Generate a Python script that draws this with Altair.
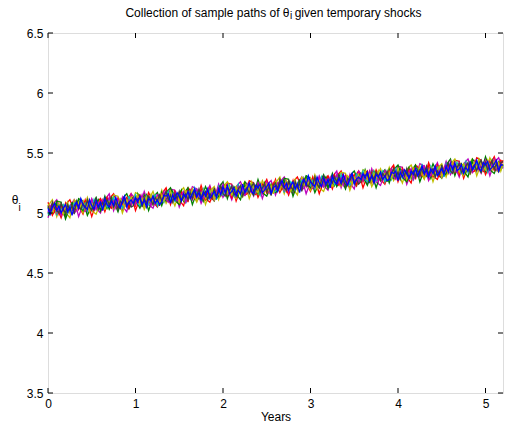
import altair as alt
import pandas as pd

# ---- data (sample paths, 0.025-year steps) ----
years = [0, 0.025, 0.05, 0.075, 0.1, 0.125, 0.15, 0.175, 0.2, 0.225, 0.25, 0.275, 0.3,
         0.325, 0.35, 0.375, 0.4, 0.425, 0.45, 0.475, 0.5, 0.525, 0.55, 0.575, 0.6, 0.625,
         0.65, 0.675, 0.7, 0.725, 0.75, 0.775, 0.8, 0.825, 0.85, 0.875, 0.9, 0.925, 0.95,
         0.975, 1.0, 1.025, 1.05, 1.075, 1.1, 1.125, 1.15, 1.175, 1.2, 1.225, 1.25, 1.275,
         1.3, 1.325, 1.35, 1.375, 1.4, 1.425, 1.45, 1.475, 1.5, 1.525, 1.55, 1.575, 1.6,
         1.625, 1.65, 1.675, 1.7, 1.725, 1.75, 1.775, 1.8, 1.825, 1.85, 1.875, 1.9, 1.925,
         1.95, 1.975, 2.0, 2.025, 2.05, 2.075, 2.1, 2.125, 2.15, 2.175, 2.2, 2.225, 2.25,
         2.275, 2.3, 2.325, 2.35, 2.375, 2.4, 2.425, 2.45, 2.475, 2.5, 2.525, 2.55, 2.575,
         2.6, 2.625, 2.65, 2.675, 2.7, 2.725, 2.75, 2.775, 2.8, 2.825, 2.85, 2.875, 2.9,
         2.925, 2.95, 2.975, 3.0, 3.025, 3.05, 3.075, 3.1, 3.125, 3.15, 3.175, 3.2, 3.225,
         3.25, 3.275, 3.3, 3.325, 3.35, 3.375, 3.4, 3.425, 3.45, 3.475, 3.5, 3.525, 3.55,
         3.575, 3.6, 3.625, 3.65, 3.675, 3.7, 3.725, 3.75, 3.775, 3.8, 3.825, 3.85, 3.875,
         3.9, 3.925, 3.95, 3.975, 4.0, 4.025, 4.05, 4.075, 4.1, 4.125, 4.15, 4.175, 4.2,
         4.225, 4.25, 4.275, 4.3, 4.325, 4.35, 4.375, 4.4, 4.425, 4.45, 4.475, 4.5, 4.525,
         4.55, 4.575, 4.6, 4.625, 4.65, 4.675, 4.7, 4.725, 4.75, 4.775, 4.8, 4.825, 4.85,
         4.875, 4.9, 4.925, 4.95, 4.975, 5.0, 5.025, 5.05, 5.075, 5.1, 5.125, 5.15, 5.175,
         5.2]
years_coarse = years[::2]   # 0.05-year steps

path_green = [5.05, 5.00, 5.07, 5.02, 5.08, 5.01, 5.03, 5.06, 4.99, 5.04, 5.01, 5.09, 5.02,
              5.06, 5.11, 5.04, 5.02, 5.09, 5.07, 5.10, 5.03, 5.05, 5.08, 5.11, 5.02, 5.07,
              5.09, 5.04, 5.10, 5.13, 5.07, 5.11, 5.05, 5.09, 5.12, 5.06, 5.10, 5.03, 5.11,
              5.13, 5.08, 5.16, 5.11, 5.09, 5.07, 5.15, 5.10, 5.07, 5.14, 5.09, 5.13, 5.06,
              5.17, 5.12, 5.10, 5.15, 5.11, 5.18, 5.12, 5.09, 5.15, 5.19, 5.10, 5.14, 5.16,
              5.13, 5.18, 5.14, 5.19, 5.12, 5.16, 5.10, 5.17, 5.15, 5.19, 5.13, 5.16, 5.12,
              5.14, 5.20, 5.19, 5.21, 5.13, 5.20, 5.16, 5.22, 5.19, 5.15, 5.21, 5.18, 5.23,
              5.17, 5.21, 5.25, 5.18, 5.22, 5.16, 5.23, 5.19, 5.25, 5.17, 5.20, 5.23, 5.18,
              5.24, 5.19, 5.26, 5.21, 5.27, 5.20, 5.22, 5.25, 5.18, 5.23, 5.20, 5.28, 5.21,
              5.25, 5.30, 5.23, 5.21, 5.28, 5.26, 5.29, 5.22, 5.24, 5.27, 5.30, 5.21, 5.26,
              5.28, 5.23, 5.29, 5.32, 5.26, 5.30, 5.24, 5.28, 5.31, 5.25, 5.29, 5.22, 5.30,
              5.33, 5.28, 5.36, 5.31, 5.29, 5.27, 5.35, 5.30, 5.27, 5.34, 5.29, 5.33, 5.26,
              5.36, 5.31, 5.29, 5.34, 5.30, 5.37, 5.31, 5.28, 5.34, 5.38, 5.29, 5.33, 5.35,
              5.32, 5.37, 5.33, 5.38, 5.31, 5.35, 5.29, 5.36, 5.34, 5.38, 5.32, 5.35, 5.31,
              5.33, 5.39, 5.38, 5.40, 5.32, 5.39, 5.35, 5.41, 5.38, 5.34, 5.40, 5.37, 5.42,
              5.36, 5.40, 5.44, 5.37, 5.41, 5.35, 5.42, 5.38, 5.44, 5.36, 5.39, 5.42, 5.37,
              5.40]
path_red = [5.00, 5.04, 5.08, 5.01, 5.05, 4.99, 5.06, 5.02, 5.08, 5.00, 5.03, 5.06, 5.01,
            5.08, 5.03, 5.10, 5.05, 5.11, 5.04, 5.06, 5.09, 5.02, 5.07, 5.04, 5.12, 5.05,
            5.08, 5.13, 5.06, 5.04, 5.11, 5.09, 5.12, 5.05, 5.07, 5.10, 5.13, 5.04, 5.09,
            5.11, 5.06, 5.12, 5.15, 5.09, 5.13, 5.07, 5.11, 5.14, 5.08, 5.12, 5.05, 5.13,
            5.16, 5.11, 5.19, 5.14, 5.12, 5.10, 5.18, 5.13, 5.10, 5.17, 5.12, 5.16, 5.09,
            5.19, 5.14, 5.12, 5.17, 5.13, 5.20, 5.14, 5.11, 5.17, 5.21, 5.12, 5.16, 5.18,
            5.16, 5.21, 5.17, 5.22, 5.15, 5.19, 5.13, 5.20, 5.18, 5.22, 5.16, 5.19, 5.15,
            5.16, 5.22, 5.21, 5.23, 5.15, 5.22, 5.18, 5.24, 5.21, 5.17, 5.23, 5.20, 5.25,
            5.19, 5.23, 5.27, 5.20, 5.24, 5.18, 5.25, 5.21, 5.27, 5.19, 5.22, 5.25, 5.20,
            5.27, 5.22, 5.29, 5.24, 5.30, 5.23, 5.25, 5.28, 5.21, 5.26, 5.23, 5.31, 5.24,
            5.27, 5.32, 5.25, 5.23, 5.30, 5.28, 5.31, 5.24, 5.26, 5.29, 5.32, 5.23, 5.28,
            5.31, 5.26, 5.32, 5.35, 5.29, 5.33, 5.27, 5.31, 5.34, 5.28, 5.32, 5.25, 5.33,
            5.35, 5.30, 5.38, 5.33, 5.31, 5.29, 5.37, 5.32, 5.29, 5.36, 5.31, 5.35, 5.28,
            5.38, 5.33, 5.31, 5.36, 5.32, 5.39, 5.33, 5.30, 5.36, 5.40, 5.31, 5.35, 5.37,
            5.35, 5.40, 5.36, 5.41, 5.34, 5.38, 5.32, 5.39, 5.37, 5.41, 5.35, 5.38, 5.34,
            5.35, 5.41, 5.40, 5.42, 5.34, 5.41, 5.37, 5.43, 5.40, 5.36, 5.42, 5.39, 5.44,
            5.42]
path_cyan = [4.99, 5.05, 5.04, 5.06, 4.98, 5.05, 5.01, 5.07, 5.04, 5.00, 5.06, 5.03, 5.08,
             5.03, 5.07, 5.11, 5.04, 5.08, 5.02, 5.09, 5.05, 5.11, 5.03, 5.06, 5.09, 5.04,
             5.10, 5.05, 5.12, 5.07, 5.13, 5.06, 5.08, 5.11, 5.04, 5.09, 5.06, 5.14, 5.07,
             5.10, 5.15, 5.08, 5.06, 5.13, 5.11, 5.14, 5.07, 5.09, 5.12, 5.15, 5.06, 5.11,
             5.14, 5.09, 5.15, 5.18, 5.12, 5.16, 5.10, 5.14, 5.17, 5.11, 5.15, 5.08, 5.16,
             5.18, 5.13, 5.21, 5.16, 5.14, 5.12, 5.20, 5.15, 5.12, 5.19, 5.14, 5.18, 5.11,
             5.22, 5.17, 5.15, 5.20, 5.16, 5.23, 5.17, 5.14, 5.20, 5.24, 5.15, 5.19, 5.21,
             5.18, 5.23, 5.19, 5.24, 5.17, 5.21, 5.15, 5.22, 5.20, 5.24, 5.18, 5.21, 5.17,
             5.18, 5.24, 5.23, 5.25, 5.17, 5.24, 5.20, 5.26, 5.23, 5.19, 5.25, 5.22, 5.27,
             5.22, 5.26, 5.30, 5.23, 5.27, 5.21, 5.28, 5.24, 5.30, 5.22, 5.25, 5.28, 5.23,
             5.29, 5.24, 5.31, 5.26, 5.32, 5.25, 5.27, 5.30, 5.23, 5.28, 5.25, 5.33, 5.26,
             5.30, 5.35, 5.28, 5.26, 5.33, 5.31, 5.34, 5.27, 5.29, 5.32, 5.35, 5.26, 5.31,
             5.33, 5.28, 5.34, 5.37, 5.31, 5.35, 5.29, 5.33, 5.36, 5.30, 5.34, 5.27, 5.35,
             5.37, 5.32, 5.40, 5.35, 5.33, 5.31, 5.39, 5.34, 5.31, 5.38, 5.33, 5.37, 5.30,
             5.41, 5.36, 5.34, 5.39, 5.35, 5.42, 5.36, 5.33, 5.39, 5.43, 5.34, 5.38, 5.40,
             5.37, 5.42, 5.38, 5.43, 5.36, 5.40, 5.34, 5.41, 5.39, 5.43, 5.37, 5.40, 5.36,
             5.39]
path_magenta = [5.01, 5.06, 5.02, 5.07, 5.00, 5.04, 4.98, 5.05, 5.03, 5.07, 5.01, 5.04, 5.00,
                5.02, 5.08, 5.07, 5.09, 5.01, 5.08, 5.04, 5.10, 5.07, 5.03, 5.09, 5.06, 5.11,
                5.05, 5.09, 5.13, 5.06, 5.10, 5.04, 5.11, 5.07, 5.13, 5.05, 5.08, 5.11, 5.06,
                5.12, 5.07, 5.14, 5.09, 5.15, 5.08, 5.10, 5.13, 5.06, 5.11, 5.08, 5.16, 5.09,
                5.13, 5.18, 5.11, 5.09, 5.16, 5.14, 5.17, 5.10, 5.12, 5.15, 5.18, 5.09, 5.14,
                5.16, 5.11, 5.17, 5.20, 5.14, 5.18, 5.12, 5.16, 5.19, 5.13, 5.17, 5.10, 5.18,
                5.21, 5.16, 5.24, 5.19, 5.17, 5.15, 5.23, 5.18, 5.15, 5.22, 5.17, 5.21, 5.14,
                5.24, 5.19, 5.17, 5.22, 5.18, 5.25, 5.19, 5.16, 5.22, 5.26, 5.17, 5.21, 5.23,
                5.20, 5.25, 5.21, 5.26, 5.19, 5.23, 5.17, 5.24, 5.22, 5.26, 5.20, 5.23, 5.19,
                5.21, 5.27, 5.26, 5.28, 5.20, 5.27, 5.23, 5.29, 5.26, 5.22, 5.28, 5.25, 5.30,
                5.24, 5.28, 5.32, 5.25, 5.29, 5.23, 5.30, 5.26, 5.32, 5.24, 5.27, 5.30, 5.25,
                5.32, 5.27, 5.34, 5.29, 5.35, 5.28, 5.30, 5.33, 5.26, 5.31, 5.28, 5.36, 5.29,
                5.32, 5.37, 5.30, 5.28, 5.35, 5.33, 5.36, 5.29, 5.31, 5.34, 5.37, 5.28, 5.33,
                5.35, 5.30, 5.36, 5.39, 5.33, 5.37, 5.31, 5.35, 5.38, 5.32, 5.36, 5.29, 5.37,
                5.40, 5.35, 5.43, 5.38, 5.36, 5.34, 5.42, 5.37, 5.34, 5.41, 5.36, 5.40, 5.33,
                5.43, 5.38, 5.36, 5.41, 5.37, 5.44, 5.38, 5.35, 5.41, 5.45, 5.36, 5.40, 5.42,
                5.38]
path_olive = [5.07, 5.02, 5.00, 5.05, 5.01, 5.08, 5.02, 4.99, 5.05, 5.09, 5.00, 5.04, 5.06,
              5.04, 5.09, 5.05, 5.10, 5.03, 5.07, 5.01, 5.08, 5.06, 5.10, 5.04, 5.07, 5.03,
              5.04, 5.10, 5.09, 5.11, 5.03, 5.10, 5.06, 5.12, 5.09, 5.05, 5.11, 5.08, 5.13,
              5.07, 5.11, 5.15, 5.08, 5.12, 5.06, 5.13, 5.09, 5.15, 5.07, 5.10, 5.13, 5.08,
              5.15, 5.10, 5.17, 5.12, 5.18, 5.11, 5.13, 5.16, 5.09, 5.14, 5.11, 5.19, 5.12,
              5.15, 5.20, 5.13, 5.11, 5.18, 5.16, 5.19, 5.12, 5.14, 5.17, 5.20, 5.11, 5.16,
              5.19, 5.14, 5.20, 5.23, 5.17, 5.21, 5.15, 5.19, 5.22, 5.16, 5.20, 5.13, 5.21,
              5.23, 5.18, 5.26, 5.21, 5.19, 5.17, 5.25, 5.20, 5.17, 5.24, 5.19, 5.23, 5.16,
              5.26, 5.21, 5.19, 5.24, 5.20, 5.27, 5.21, 5.18, 5.24, 5.28, 5.19, 5.23, 5.25,
              5.23, 5.28, 5.24, 5.29, 5.22, 5.26, 5.20, 5.27, 5.25, 5.29, 5.23, 5.26, 5.22,
              5.23, 5.29, 5.28, 5.30, 5.22, 5.29, 5.25, 5.31, 5.28, 5.24, 5.30, 5.27, 5.32,
              5.27, 5.31, 5.35, 5.28, 5.32, 5.26, 5.33, 5.29, 5.35, 5.27, 5.30, 5.33, 5.28,
              5.34, 5.29, 5.36, 5.31, 5.37, 5.30, 5.32, 5.35, 5.28, 5.33, 5.30, 5.38, 5.31,
              5.34, 5.39, 5.32, 5.30, 5.37, 5.35, 5.38, 5.31, 5.33, 5.36, 5.39, 5.30, 5.35,
              5.38, 5.33, 5.39, 5.42, 5.36, 5.40, 5.34, 5.38, 5.41, 5.35, 5.39, 5.32, 5.40,
              5.42, 5.37, 5.45, 5.40, 5.38, 5.36, 5.44, 5.39, 5.36, 5.43, 5.38, 5.42, 5.35,
              5.41]
path_gray = [5.06, 5.01, 5.09, 5.04, 5.02, 5.00, 5.08, 5.03, 5.00, 5.07, 5.02, 5.06, 4.99,
             5.10, 5.05, 5.03, 5.08, 5.04, 5.11, 5.05, 5.02, 5.08, 5.12, 5.03, 5.07, 5.09,
             5.06, 5.11, 5.07, 5.12, 5.05, 5.09, 5.03, 5.10, 5.08, 5.12, 5.06, 5.09, 5.05,
             5.06, 5.12, 5.11, 5.13, 5.05, 5.12, 5.08, 5.14, 5.11, 5.07, 5.13, 5.10, 5.15,
             5.10, 5.14, 5.18, 5.11, 5.15, 5.09, 5.16, 5.12, 5.18, 5.10, 5.13, 5.16, 5.11,
             5.17, 5.12, 5.19, 5.14, 5.20, 5.13, 5.15, 5.18, 5.11, 5.16, 5.13, 5.21, 5.14,
             5.18, 5.23, 5.16, 5.14, 5.21, 5.19, 5.22, 5.15, 5.17, 5.20, 5.23, 5.14, 5.19,
             5.21, 5.16, 5.22, 5.25, 5.19, 5.23, 5.17, 5.21, 5.24, 5.18, 5.22, 5.15, 5.23,
             5.25, 5.20, 5.28, 5.23, 5.21, 5.19, 5.27, 5.22, 5.19, 5.26, 5.21, 5.25, 5.18,
             5.29, 5.24, 5.22, 5.27, 5.23, 5.30, 5.24, 5.21, 5.27, 5.31, 5.22, 5.26, 5.28,
             5.25, 5.30, 5.26, 5.31, 5.24, 5.28, 5.22, 5.29, 5.27, 5.31, 5.25, 5.28, 5.24,
             5.26, 5.32, 5.31, 5.33, 5.25, 5.32, 5.28, 5.34, 5.31, 5.27, 5.33, 5.30, 5.35,
             5.29, 5.33, 5.37, 5.30, 5.34, 5.28, 5.35, 5.31, 5.37, 5.29, 5.32, 5.35, 5.30,
             5.36, 5.31, 5.38, 5.33, 5.39, 5.32, 5.34, 5.37, 5.30, 5.35, 5.32, 5.40, 5.33,
             5.37, 5.42, 5.35, 5.33, 5.40, 5.38, 5.41, 5.34, 5.36, 5.39, 5.42, 5.33, 5.38,
             5.40, 5.35, 5.41, 5.44, 5.38, 5.42, 5.36, 5.40, 5.43, 5.37, 5.41, 5.34, 5.42,
             5.43]
path_blue = [5.04, 4.99, 5.05, 5.08, 5.02, 5.06, 5.00, 5.04, 5.07, 5.01, 5.05, 4.98, 5.06,
             5.09, 5.04, 5.12, 5.07, 5.05, 5.03, 5.11, 5.06, 5.03, 5.10, 5.05, 5.09, 5.02,
             5.12, 5.07, 5.05, 5.10, 5.06, 5.13, 5.07, 5.04, 5.10, 5.14, 5.05, 5.09, 5.11,
             5.08, 5.13, 5.09, 5.14, 5.07, 5.11, 5.05, 5.12, 5.10, 5.14, 5.08, 5.11, 5.07,
             5.09, 5.15, 5.14, 5.16, 5.08, 5.15, 5.11, 5.17, 5.14, 5.10, 5.16, 5.13, 5.18,
             5.12, 5.16, 5.20, 5.13, 5.17, 5.11, 5.18, 5.14, 5.20, 5.12, 5.15, 5.18, 5.13,
             5.20, 5.15, 5.22, 5.17, 5.23, 5.16, 5.18, 5.21, 5.14, 5.19, 5.16, 5.24, 5.17,
             5.20, 5.25, 5.18, 5.16, 5.23, 5.21, 5.24, 5.17, 5.19, 5.22, 5.25, 5.16, 5.21,
             5.23, 5.18, 5.24, 5.27, 5.21, 5.25, 5.19, 5.23, 5.26, 5.20, 5.24, 5.17, 5.25,
             5.28, 5.23, 5.31, 5.26, 5.24, 5.22, 5.30, 5.25, 5.22, 5.29, 5.24, 5.28, 5.21,
             5.31, 5.26, 5.24, 5.29, 5.25, 5.32, 5.26, 5.23, 5.29, 5.33, 5.24, 5.28, 5.30,
             5.28, 5.33, 5.29, 5.34, 5.27, 5.31, 5.25, 5.32, 5.30, 5.34, 5.28, 5.31, 5.27,
             5.28, 5.34, 5.33, 5.35, 5.27, 5.34, 5.30, 5.36, 5.33, 5.29, 5.35, 5.32, 5.37,
             5.31, 5.35, 5.39, 5.32, 5.36, 5.30, 5.37, 5.33, 5.39, 5.31, 5.34, 5.37, 5.32,
             5.39, 5.34, 5.41, 5.36, 5.42, 5.35, 5.37, 5.40, 5.33, 5.38, 5.35, 5.43, 5.36,
             5.39, 5.44, 5.37, 5.35, 5.42, 5.40, 5.43, 5.36, 5.38, 5.41, 5.44, 5.35, 5.40,
             5.40]

# further paths (0.05-year steps) that reach the edges of the band
path_red2 = [5.09, 4.98, 5.05, 4.96, 5.07, 5.11, 5.02, 5.06, 4.99, 5.10, 4.97, 5.08, 5.12,
             5.01, 5.12, 5.16, 5.06, 5.02, 5.11, 5.16, 5.02, 5.12, 5.06, 5.17, 5.09, 5.05,
             5.16, 5.21, 5.07, 5.18, 5.11, 5.06, 5.21, 5.17, 5.10, 5.23, 5.12, 5.09, 5.19,
             5.13, 5.16, 5.25, 5.24, 5.10, 5.20, 5.16, 5.27, 5.25, 5.13, 5.21, 5.28, 5.17,
             5.28, 5.17, 5.24, 5.15, 5.26, 5.30, 5.21, 5.25, 5.18, 5.29, 5.16, 5.27, 5.31,
             5.20, 5.31, 5.35, 5.25, 5.21, 5.30, 5.35, 5.21, 5.31, 5.25, 5.36, 5.28, 5.24,
             5.35, 5.40, 5.26, 5.37, 5.30, 5.25, 5.40, 5.36, 5.29, 5.42, 5.31, 5.28, 5.38,
             5.32, 5.35, 5.44, 5.43, 5.29, 5.39, 5.35, 5.46, 5.44, 5.32, 5.40, 5.47, 5.36,
             5.44]
path_magenta2 = [4.96, 5.07, 5.11, 5.01, 4.97, 5.06, 5.11, 4.97, 5.07, 5.01, 5.12, 5.04, 5.00,
                 5.11, 5.16, 5.02, 5.13, 5.06, 5.01, 5.16, 5.12, 5.05, 5.18, 5.07, 5.04, 5.14,
                 5.08, 5.11, 5.20, 5.19, 5.05, 5.15, 5.11, 5.22, 5.20, 5.08, 5.16, 5.23, 5.12,
                 5.24, 5.13, 5.20, 5.11, 5.22, 5.26, 5.17, 5.21, 5.14, 5.25, 5.12, 5.23, 5.27,
                 5.15, 5.26, 5.30, 5.20, 5.16, 5.25, 5.30, 5.16, 5.26, 5.20, 5.31, 5.23, 5.19,
                 5.30, 5.35, 5.21, 5.32, 5.25, 5.20, 5.35, 5.31, 5.24, 5.37, 5.26, 5.23, 5.33,
                 5.27, 5.30, 5.39, 5.38, 5.24, 5.34, 5.30, 5.41, 5.39, 5.27, 5.35, 5.42, 5.31,
                 5.43, 5.32, 5.39, 5.30, 5.41, 5.45, 5.36, 5.40, 5.33, 5.44, 5.31, 5.42, 5.46,
                 5.37]
path_olive2 = [5.06, 5.11, 4.97, 5.08, 5.01, 4.96, 5.11, 5.07, 5.00, 5.13, 5.02, 4.99, 5.09,
               5.03, 5.06, 5.15, 5.14, 5.00, 5.10, 5.06, 5.17, 5.15, 5.03, 5.11, 5.18, 5.07,
               5.19, 5.08, 5.15, 5.06, 5.17, 5.21, 5.12, 5.16, 5.09, 5.20, 5.07, 5.18, 5.22,
               5.11, 5.22, 5.26, 5.16, 5.12, 5.21, 5.26, 5.12, 5.22, 5.16, 5.27, 5.19, 5.15,
               5.25, 5.30, 5.16, 5.27, 5.20, 5.15, 5.30, 5.26, 5.19, 5.32, 5.21, 5.18, 5.28,
               5.22, 5.25, 5.34, 5.33, 5.19, 5.29, 5.25, 5.36, 5.34, 5.22, 5.30, 5.37, 5.26,
               5.38, 5.27, 5.34, 5.25, 5.36, 5.40, 5.31, 5.35, 5.28, 5.39, 5.26, 5.37, 5.41,
               5.30, 5.41, 5.45, 5.35, 5.31, 5.40, 5.45, 5.31, 5.41, 5.35, 5.46, 5.38, 5.34,
               5.41]
path_green2 = [4.98, 5.01, 5.10, 5.09, 4.95, 5.05, 5.01, 5.12, 5.10, 4.98, 5.06, 5.13, 5.02,
               5.14, 5.03, 5.10, 5.01, 5.12, 5.16, 5.07, 5.11, 5.04, 5.15, 5.02, 5.13, 5.17,
               5.06, 5.17, 5.21, 5.11, 5.07, 5.16, 5.21, 5.07, 5.17, 5.11, 5.22, 5.14, 5.10,
               5.21, 5.26, 5.12, 5.23, 5.16, 5.11, 5.26, 5.22, 5.15, 5.28, 5.17, 5.14, 5.24,
               5.17, 5.20, 5.29, 5.28, 5.14, 5.24, 5.20, 5.31, 5.29, 5.17, 5.25, 5.32, 5.21,
               5.33, 5.22, 5.29, 5.20, 5.31, 5.35, 5.26, 5.30, 5.23, 5.34, 5.21, 5.32, 5.36,
               5.25, 5.36, 5.40, 5.30, 5.26, 5.35, 5.40, 5.26, 5.36, 5.30, 5.41, 5.33, 5.29,
               5.40, 5.45, 5.31, 5.42, 5.35, 5.30, 5.45, 5.41, 5.34, 5.47, 5.36, 5.33, 5.43,
               5.39]

# drawing order: blue is drawn last (on top)
paths = [(years_coarse, path_red2, "#FF0000"),
         (years_coarse, path_magenta2, "#BF00BF"),
         (years_coarse, path_olive2, "#BFBF00"),
         (years_coarse, path_green2, "#008000"),
         (years, path_green, "#008000"),
         (years, path_red, "#FF0000"),
         (years, path_cyan, "#00BFBF"),
         (years, path_magenta, "#BF00BF"),
         (years, path_olive, "#BFBF00"),
         (years, path_gray, "#404040"),
         (years, path_blue, "#0000FF")]

x_ticks = [0, 1, 2, 3, 4, 5]
y_ticks = [3.5, 4, 4.5, 5, 5.5, 6, 6.5]

W, H = 455, 360
FONT = "Liberation Sans"

x_scale = alt.Scale(domain=[0, 5.2], nice=False, zero=False)
y_scale = alt.Scale(domain=[3.5, 6.5], nice=False, zero=False)

layers = []
first = True
for xs, vals, col in paths:
    n = min(len(xs), len(vals))
    df = pd.DataFrame({"year": xs[:n], "theta": vals[:n]})
    if first:
        xenc = alt.X("year:Q", scale=x_scale,
                     axis=alt.Axis(values=x_ticks, format="d", ticks=False, domain=False, grid=False,
                                   labelFlush=False, labelOverlap=False, labelPadding=5,
                                   labelFont=FONT, labelFontSize=12, labelColor="black",
                                   title="Years", titleFont=FONT, titleFontSize=12,
                                   titleFontWeight="normal", titleColor="black",
                                   titlePadding=2))
        yenc = alt.Y("theta:Q", scale=y_scale,
                     axis=alt.Axis(values=y_ticks, format="~g", ticks=False, domain=False,
                                   grid=False, labelFlush=False, labelOverlap=False,
                                   labelPadding=5, labelFont=FONT, labelFontSize=12,
                                   labelColor="black", title=None))
        first = False
    else:
        xenc = alt.X("year:Q", scale=x_scale)
        yenc = alt.Y("theta:Q", scale=y_scale)
    layers.append(alt.Chart(df).mark_line(color=col, strokeWidth=1.3).encode(x=xenc, y=yenc))

xt = pd.DataFrame({"v": x_ticks})
yt = pd.DataFrame({"v": y_ticks})
tick_style = dict(color="black", strokeWidth=1)
ticks = [
    alt.Chart(xt).mark_rule(**tick_style).encode(x=alt.X("v:Q", scale=x_scale), y=alt.value(H - 5), y2=alt.value(H)),
    alt.Chart(xt).mark_rule(**tick_style).encode(x=alt.X("v:Q", scale=x_scale), y=alt.value(0), y2=alt.value(5)),
    alt.Chart(yt).mark_rule(**tick_style).encode(y=alt.Y("v:Q", scale=y_scale), x=alt.value(0), x2=alt.value(5)),
    alt.Chart(yt).mark_rule(**tick_style).encode(y=alt.Y("v:Q", scale=y_scale), x=alt.value(W - 5), x2=alt.value(W)),
]

def txt(s, x, y, size=12, align="left"):
    return alt.Chart(pd.DataFrame({"t": [s]})).mark_text(
        font=FONT, fontSize=size, align=align, baseline="alphabetic", color="black"
    ).encode(text="t:N", x=alt.value(x), y=alt.value(y))

# title and y label (with subscript i), positions relative to plot area origin (48, 33)
texts = [
    txt("Collection of sample paths of θ", 241.5, -16.3, align="right"),
    txt("i", 242, -13.7, size=10),
    txt("given temporary shocks", 246.7, -16.3),
    txt("θ", -33, 171.3, align="center"),
    txt("i", -29.5, 178, size=10),
]

chart = alt.layer(*layers, *ticks, *texts).properties(
    width=W, height=H,
    autosize=alt.AutoSizeParams(type="none"),
    padding={"left": 48, "top": 33, "right": 2, "bottom": 35},
).configure_view(stroke="black", strokeWidth=1).configure(background="white")

chart.save("out.html", embed_options={"renderer": "svg", "actions": False})
